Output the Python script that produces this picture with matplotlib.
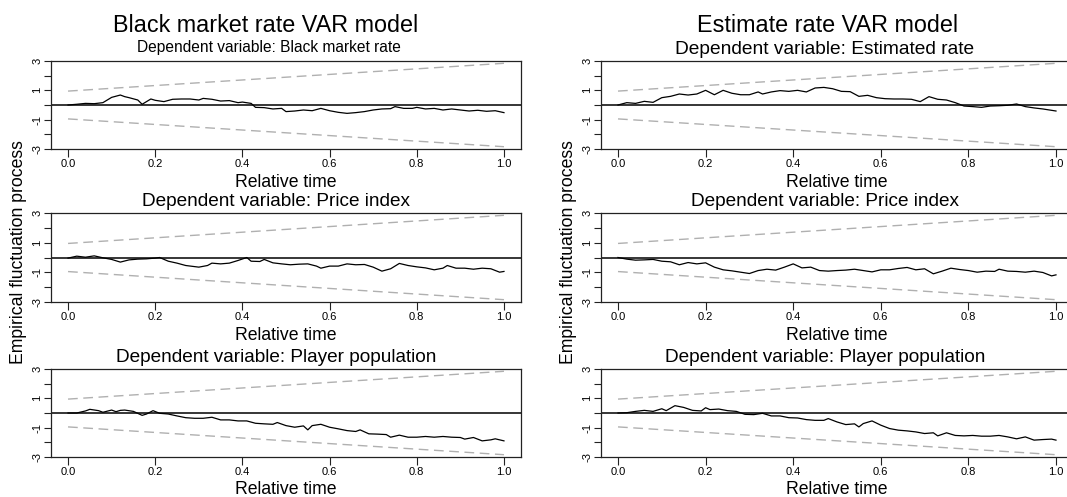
import matplotlib
matplotlib.use("Agg")
import matplotlib.pyplot as plt
from matplotlib import font_manager

plt.rcParams['axes.unicode_minus'] = False
plt.rcParams['font.family'] = ['Liberation Sans', 'DejaVu Sans']

# --- data (relative time, empirical fluctuation) ---
bm_rate_t = [0, .02, .04, .06, .08, .10, .12, .13, .14, .16, .17, .18, .19, .20, .22, .24, .26, .28, .30, .31,
             .33, .35, .37, .39, .40, .42, .43, .45, .47, .49, .50, .52, .54, .56, .58, .60, .62, .64, .66, .68,
             .70, .72, .74, .75, .77, .79, .80, .82, .84, .86, .88, .90, .92, .94, .96, .98, 1.0]
bm_rate_v = [0, .05, .11, .09, .16, .52, .68, .57, .50, .34, .05, .23, .41, .32, .23, .39, .41, .41, .34, .45,
             .39, .27, .30, .16, .20, .11, -.16, -.18, -.27, -.23, -.45, -.41, -.34, -.39, -.23, -.39, -.50, -.57, -.52, -.45,
             -.34, -.27, -.25, -.11, -.23, -.23, -.16, -.27, -.23, -.34, -.27, -.34, -.41, -.36, -.43, -.39, -.52]

est_rate_t = [0, .02, .04, .06, .08, .10, .12, .14, .16, .18, .20, .22, .24, .26, .28, .30, .32, .33, .35, .37,
              .39, .41, .43, .45, .47, .49, .51, .53, .55, .57, .59, .61, .63, .65, .67, .69, .71, .73, .75, .77,
              .79, .81, .83, .85, .87, .89, .91, .93, .95, .97, 1.0]
est_rate_v = [0, .16, .11, .25, .18, .50, .59, .75, .68, .75, 1.0, .70, 1.0, .80, .70, .70, .89, .75, .89, .98,
              .93, 1.0, .89, 1.16, 1.20, 1.11, .93, .91, .59, .66, .50, .43, .41, .41, .39, .23, .57, .39, .34, .16,
              -.07, -.11, -.16, -.07, -.05, -.02, .07, -.11, -.20, -.27, -.41]

bm_price_t = [0, .02, .04, .06, .08, .10, .12, .14, .16, .18, .20, .21, .23, .25, .27, .30, .32, .33, .35, .37,
              .39, .41, .42, .44, .45, .47, .49, .51, .53, .55, .57, .58, .60, .62, .64, .66, .68, .70, .72, .74,
              .76, .78, .80, .82, .84, .86, .87, .89, .91, .93, .95, .97, .99, 1.0]
bm_price_v = [-.04, .09, .02, .11, -.02, -.13, -.31, -.16, -.11, -.09, -.04, 0, -.25, -.38, -.54, -.65, -.54, -.38, -.43, -.38,
              -.20, 0, -.25, -.27, -.13, -.36, -.43, -.49, -.45, -.43, -.58, -.72, -.58, -.58, -.43, -.49, -.47, -.65, -.92, -.76,
              -.40, -.54, -.63, -.70, -.83, -.72, -.54, -.72, -.72, -.79, -.72, -.76, -.99, -.94]

est_price_t = [0, .02, .04, .06, .08, .10, .12, .14, .16, .18, .20, .22, .24, .26, .28, .30, .32, .34, .36, .38,
               .40, .42, .44, .46, .48, .50, .52, .54, .56, .58, .60, .62, .64, .66, .68, .70, .72, .74, .76, .78,
               .80, .82, .84, .86, .87, .89, .91, .93, .95, .97, .99, 1.0]
est_price_v = [0, -.11, -.18, -.16, -.13, -.25, -.29, -.49, -.34, -.43, -.36, -.65, -.83, -.90, -.99, -1.08, -.88, -.79, -.85, -.65,
               -.43, -.70, -.65, -.88, -.92, -.88, -.85, -.79, -.88, -.97, -.83, -.83, -.74, -.67, -.83, -.76, -1.10, -.92, -.72, -.81,
               -.88, -.99, -.92, -.94, -.79, -.92, -.94, -.99, -.92, -1.01, -1.24, -1.17]

bm_pop_t = [0, .02, .04, .05, .07, .08, .10, .11, .12, .13, .15, .17, .18, .195, .21, .23, .25, .27, .29, .31,
            .33, .35, .37, .39, .41, .43, .45, .47, .48, .50, .52, .54, .55, .56, .58, .60, .62, .64, .66, .67,
            .69, .71, .73, .74, .76, .78, .80, .82, .84, .86, .88, .90, .91, .93, .95, .97, .98, 1.0]
bm_pop_v = [0, 0, .14, .25, .16, .05, .20, .09, .18, .20, .11, -.16, -.07, .16, -.02, -.07, -.20, -.32, -.36, -.36,
            -.29, -.47, -.47, -.54, -.54, -.70, -.74, -.77, -.65, -.86, -.97, -.88, -1.15, -.86, -.77, -.97, -1.08, -1.20, -1.26, -1.15,
            -1.42, -1.44, -1.47, -1.65, -1.51, -1.65, -1.65, -1.60, -1.65, -1.60, -1.65, -1.67, -1.78, -1.67, -1.90, -1.83, -1.76, -1.90]

est_pop_t = [0, .02, .04, .06, .08, .10, .11, .13, .15, .17, .19, .20, .21, .23, .25, .27, .29, .31, .33, .35,
             .37, .39, .41, .43, .45, .47, .48, .50, .52, .54, .55, .56, .58, .60, .62, .64, .66, .68, .70, .72,
             .73, .75, .77, .79, .81, .83, .85, .87, .89, .91, .93, .95, .97, .99, 1.0]
est_pop_v = [0, .02, .11, .18, .11, .29, .16, .50, .38, .18, .14, .36, .23, .27, .16, .11, -.09, -.11, -.02, -.20,
             -.20, -.32, -.34, -.45, -.50, -.50, -.38, -.61, -.79, -.74, -.95, -.72, -.54, -.83, -1.06, -1.17, -1.22, -1.29, -1.40, -1.35,
             -1.56, -1.35, -1.53, -1.56, -1.53, -1.58, -1.58, -1.53, -1.63, -1.76, -1.63, -1.85, -1.81, -1.78, -1.85]

# OLS-CUSUM 5% boundary end points
bound_t = [0.0, 1.0]
bound_v = [0.948, 2.844]

col_titles = ["Black market rate VAR model", "Estimate rate VAR model"]
sub_titles = [["Dependent variable: Black market rate", "Dependent variable: Price index",
               "Dependent variable: Player population"],
              ["Dependent variable: Estimated rate", "Dependent variable: Price index",
               "Dependent variable: Player population"]]
series = [[(bm_rate_t, bm_rate_v), (bm_price_t, bm_price_v), (bm_pop_t, bm_pop_v)],
          [(est_rate_t, est_rate_v), (est_price_t, est_price_v), (est_pop_t, est_pop_v)]]
x_ticks = [0.0, 0.2, 0.4, 0.6, 0.8, 1.0]
y_ticks = [-3, -2, -1, 0, 1, 2, 3]
y_ticklabels = ['-3', '', '-1', '', '1', '', '3']

installed = {f.name for f in font_manager.fontManager.ttflist}
if 'Liberation Sans Narrow' in installed:
    tick_font, tick_size = 'Liberation Sans Narrow', 9
else:
    tick_font, tick_size = 'Liberation Sans', 8

W, H = 1067, 497
fig = plt.figure(figsize=(W / 100, H / 100), dpi=100)

# layout in pixels (right column runs past the right edge, as in the reference)
cols_px = [(50.6, 521.4), (600.5, 1073.5)]
rows_px = [(61, 149), (213, 302), (369, 457)]
title_x = [266, 828]
sub_dx = [[-17, -10, -10], [-12, -12, -12]]
sub_base = [[52, 206, 362], [54, 206, 362]]
sub_size = [[11.2, 13.7, 13.7], [13.8, 13.7, 13.7]]

for c, (l, r) in enumerate(cols_px):
    xc = (l + r) / 2
    fig.text(title_x[c] / W, 1 - 31.7 / H, col_titles[c], ha='center', va='baseline', fontsize=16.8)
    fig.text((l - 32) / W, 1 - 252 / H, "Empirical fluctuation process", rotation=90,
             ha='center', va='center', fontsize=12.7)
    for k, (t, b) in enumerate(rows_px):
        ax = fig.add_axes([l / W, 1 - b / H, (r - l) / W, (b - t) / H])
        tt, vv = series[c][k]
        ax.axhline(0, color='black', lw=1.1)
        ax.plot(bound_t, bound_v, color='#b0b0b0', lw=1, dashes=(7, 4))
        ax.plot(bound_t, [-v for v in bound_v], color='#b0b0b0', lw=1, dashes=(7, 4))
        ax.plot(tt, vv, color='black', lw=0.9)
        ax.set_xlim(-0.04, 1.04)
        ax.set_ylim(-3, 3)
        ax.set_xticks(x_ticks)
        ax.set_xticklabels([f'{x:.1f}' for x in x_ticks], family=tick_font, fontsize=tick_size)
        ax.set_yticks(y_ticks)
        ax.set_yticklabels(y_ticklabels, rotation=90, va='center', ha='center',
                           family=tick_font, fontsize=tick_size)
        ax.tick_params(direction='out', length=5.4, width=0.8, color='#222222')
        ax.tick_params(axis='x', pad=1.5)
        ax.tick_params(axis='y', pad=4)
        for s in ax.spines.values():
            s.set_linewidth(0.9)
            s.set_color('#222222')
        fig.text(xc / W, 1 - (b + 37.5) / H, "Relative time", ha='center', va='baseline', fontsize=12.7)
        fig.text((xc + sub_dx[c][k]) / W, 1 - sub_base[c][k] / H, sub_titles[c][k],
                 ha='center', va='baseline', fontsize=sub_size[c][k])

fig.savefig("out.png", dpi=100)
